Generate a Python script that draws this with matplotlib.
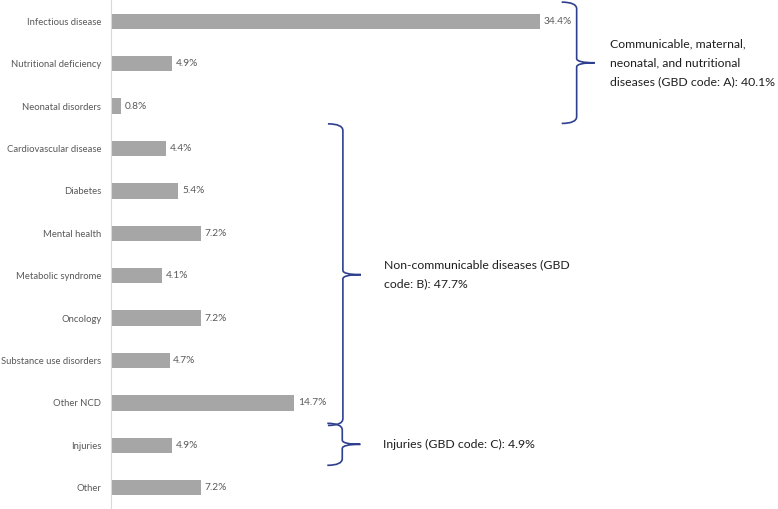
import numpy as np
import matplotlib.pyplot as plt
from matplotlib.path import Path
from matplotlib.patches import PathPatch

plt.rcParams['font.family'] = ['Lato', 'DejaVu Sans']

categories = ['Infectious disease', 'Nutritional deficiency', 'Neonatal disorders',
              'Cardiovascular disease', 'Diabetes', 'Mental health',
              'Metabolic syndrome', 'Oncology', 'Substance use disorders',
              'Other NCD', 'Injuries', 'Other']
values = [34.4, 4.9, 0.8, 4.4, 5.4, 7.2, 4.1, 7.2, 4.7, 14.7, 4.9, 7.2]

group_labels = ['Communicable, maternal,\nneonatal, and nutritional\ndiseases (GBD code: A): 40.1%',
                'Non-communicable diseases (GBD\ncode: B): 47.7%',
                'Injuries (GBD code: C): 4.9%']
group_rows = [(0, 2), (3, 9), (10, 10)]

brace_color = '#2e3f8f'


def brace(ax, x, y0, y1, w=1.2, tip=1.45, ry=0.16, rt=0.1):
    # curly brace opening left, tip pointing right; y grows downward (inverted axis)
    ym = (y0 + y1) / 2
    verts = [(x - w, y0), (x, y0), (x, y0 + ry),
             (x, ym - rt), (x, ym), (x + tip, ym),
             (x, ym), (x, ym + rt),
             (x, y1 - ry), (x, y1), (x - w, y1)]
    codes = [Path.MOVETO, Path.CURVE3, Path.CURVE3,
             Path.LINETO, Path.CURVE3, Path.CURVE3,
             Path.CURVE3, Path.CURVE3,
             Path.LINETO, Path.CURVE3, Path.CURVE3]
    ax.add_patch(PathPatch(Path(verts, codes), fill=False, edgecolor=brace_color,
                           lw=1.2, clip_on=False))
    return ym


fig = plt.figure(figsize=(7.78, 5.09), dpi=100)
ax = fig.add_axes([111 / 778, 0, 1 - 111 / 778, 1])

y = np.arange(len(categories))
bars = ax.barh(y, values, height=0.36, color='#a6a6a6')
ax.set_ylim(len(categories) - 0.5, -0.5)
ax.set_xlim(0, 53.5)

ax.set_yticks(y)
ax.set_yticklabels(categories, fontsize=6.8, color='#595959')
ax.tick_params(axis='y', length=0, pad=7)
ax.set_xticks([])
for s in ['top', 'right', 'bottom']:
    ax.spines[s].set_visible(False)
ax.spines['left'].set_color('#d9d9d9')

for b, v in zip(bars, values):
    ax.text(b.get_width() + 0.3, b.get_y() + b.get_height() / 2, f'{v:.1f}%',
            va='center', ha='left', fontsize=7.3, color='#595959')

brace_x = [37.35, 18.6, 18.55]
tops = [-0.45, 2.42, 9.48]
bots = [2.41, 9.53, 10.47]
text_dx = [2.7, 3.3, 3.3]
for i, (lab, (r0, r1)) in enumerate(zip(group_labels, group_rows)):
    ym = brace(ax, brace_x[i], tops[i], bots[i])
    ax.text(brace_x[i] + text_dx[i], ym, lab, va='center', ha='left',
            fontsize=8.8, color='#1f1f1f', linespacing=1.9)

fig.savefig('out.png', dpi=100)
